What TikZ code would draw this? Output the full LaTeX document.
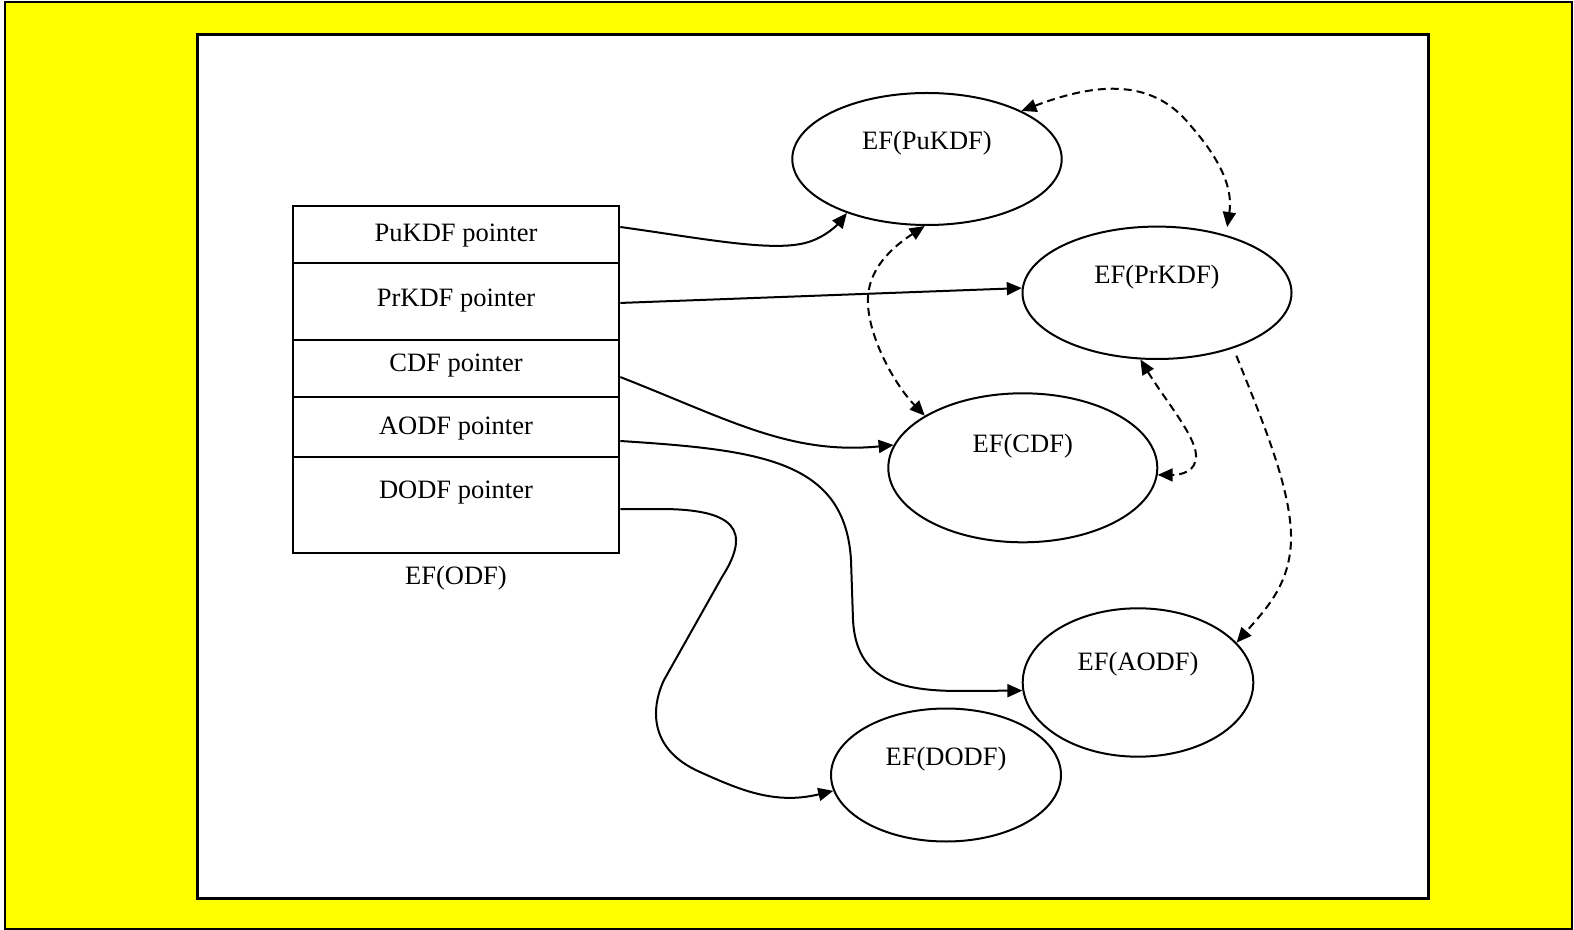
\documentclass[tikz,border=0pt]{standalone}
\usepackage{fontspec}
\setmainfont{Liberation Serif}
\usetikzlibrary{arrows.meta,shapes.geometric}
\definecolor{bgyellow}{RGB}{255,255,0}
\tikzset{
  ptr/.style={draw, line width=1pt, -{Triangle[length=7.5pt,width=6.5pt]}},
  dptr/.style={ptr, dash pattern=on 4pt off 2.5pt},
  ddptr/.style={dptr, {Triangle[length=7.5pt,width=6.5pt]}-{Triangle[length=7.5pt,width=6.5pt]}},
  ef/.style={draw, ellipse, line width=1pt, inner sep=0pt},
  cell/.style={draw, rectangle, line width=1pt, minimum width=163.3pt, inner sep=0pt},
  lbl/.style={anchor=base, inner sep=0pt},
}
\begin{document}
\begin{tikzpicture}[x=0.5pt, y=-0.5pt, font=\fontsize{13.25}{16}\selectfont]
\useasboundingbox (0,0) rectangle (1574,930);
% frames
\draw[fill=bgyellow, line width=1pt] (5,2) rectangle (1572,928.5);
\draw[fill=white, line width=1.5pt] (197.5,35) rectangle (1428.5,898);

% table rows
\node[cell, minimum height=28.5pt]  (r1) at (456,234.2) {};
\node[cell, minimum height=38.65pt] (r2) at (456,301.35) {};
\node[cell, minimum height=28.65pt] (r3) at (456,368.65) {};
\node[cell, minimum height=29.7pt]  (r4) at (456,427) {};
\node[cell, minimum height=48pt]    (r5) at (456,504.7) {};
\node[lbl] (t1) at (456,241.8) {PuKDF pointer};
\node[lbl] (t2) at (456,306.8) {PrKDF pointer};
\node[lbl] (t3) at (456,371.5) {CDF pointer};
\node[lbl] (t4) at (456,434.8) {AODF pointer};
\node[lbl] (t5) at (456,498.3) {DODF pointer};
\node[lbl] (odf) at (456,584) {EF(ODF)};

% ellipses
\node[ef, minimum width=134.7pt, minimum height=66pt]   (puk)  at (927,159) {};
\node[ef, minimum width=134.5pt, minimum height=66.2pt] (prk)  at (1157,292.8) {};
\node[ef, minimum width=134.5pt, minimum height=74.5pt] (cdf)  at (1022.8,467.8) {};
\node[ef, minimum width=115.3pt, minimum height=74.2pt] (aodf) at (1138,682.5) {};
\node[ef, minimum width=115pt,   minimum height=66.5pt] (dodf) at (946,775) {};
\node[lbl] (tpuk)  at (927,149.5)   {EF(PuKDF)};
\node[lbl] (tprk)  at (1157,283.8)  {EF(PrKDF)};
\node[lbl] (tcdf)  at (1022.8,452)  {EF(CDF)};
\node[lbl] (taodf) at (1138,670.5)  {EF(AODF)};
\node[lbl] (tdodf) at (946,765.5)   {EF(DODF)};

% solid pointers
\draw[ptr] ([yshift=3.6pt]r1.east) .. controls (700,238) and (770,252) .. (805,243)
           .. controls (825,238) and (838,224) .. (puk.214);
\draw[ptr] ([yshift=-0.8pt]r2.east) -- (prk.178);
\draw[ptr] ([yshift=-4.2pt]r3.east) .. controls (730,420) and (790,455) .. (cdf.170);
\draw[ptr] ([yshift=-7pt]r4.east) .. controls (760,450) and (845,460) .. (851,560)
           -- (853,620) .. controls (856,680) and (900,691) .. (960,691) -- (aodf.184);
\draw[ptr] ([yshift=-2.15pt]r5.east) -- (660,509) .. controls (735,509) and (752,530) .. (722,577)
           -- (664,680) .. controls (650,710) and (650,750) .. (700,772)
           .. controls (740,790) and (775,805) .. (dodf.188);

% dashed links
\draw[ddptr, shorten >=4pt] (puk.27) .. controls (1090,85) and (1150,75) .. (1190,125)
           .. controls (1228,168) and (1232,195) .. (prk.40);
\draw[ddptr] (puk.268) .. controls (885,252) and (866,275) .. (868,305)
           .. controls (870,340) and (895,385) .. (cdf.152);
\draw[ddptr] (prk.256) .. controls (1165,400) and (1195,435) .. (1196,455)
           .. controls (1197,472) and (1180,475) .. (cdf.-3);
\draw[dptr, shorten <=4pt] (prk.-36) .. controls (1262,420) and (1292,490) .. (1291,540)
           .. controls (1290,585) and (1265,610) .. (aodf.22);
\end{tikzpicture}
\end{document}
